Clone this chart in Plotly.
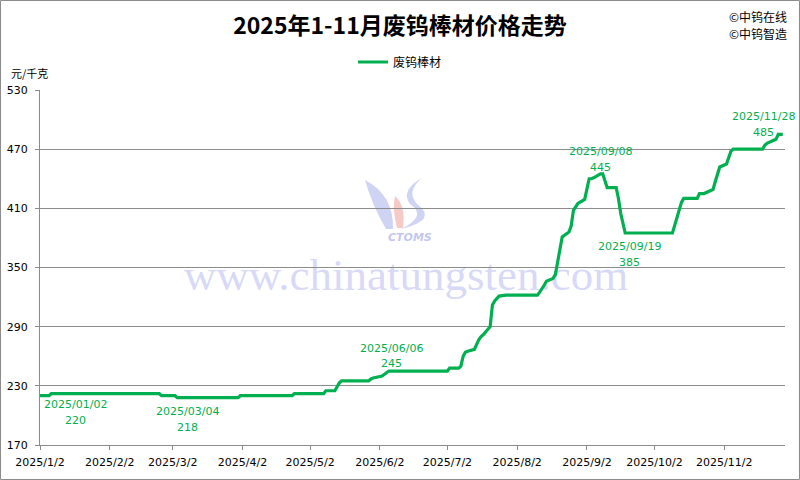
import plotly.graph_objects as go

# ---------------- data ----------------
dates = [
    "2025-01-02", "2025-01-06", "2025-01-07", "2025-02-24", "2025-02-25", "2025-03-03", "2025-03-04",
    "2025-03-31", "2025-04-01", "2025-04-24", "2025-04-25", "2025-05-08", "2025-05-09", "2025-05-13",
    "2025-05-14", "2025-05-15", "2025-05-16", "2025-05-28", "2025-05-29", "2025-05-30", "2025-06-03",
    "2025-06-04", "2025-06-05", "2025-06-06", "2025-07-02", "2025-07-03", "2025-07-07", "2025-07-08",
    "2025-07-09", "2025-07-10", "2025-07-11", "2025-07-14", "2025-07-15", "2025-07-16", "2025-07-17",
    "2025-07-18", "2025-07-21", "2025-07-22", "2025-07-23", "2025-07-24", "2025-07-25", "2025-07-28",
    "2025-08-11", "2025-08-12", "2025-08-13", "2025-08-14", "2025-08-15", "2025-08-18", "2025-08-19",
    "2025-08-20", "2025-08-21", "2025-08-22", "2025-08-25", "2025-08-26", "2025-08-27", "2025-08-28",
    "2025-08-29", "2025-09-01", "2025-09-02", "2025-09-03", "2025-09-04", "2025-09-05", "2025-09-08",
    "2025-09-09", "2025-09-10", "2025-09-11", "2025-09-15", "2025-09-16", "2025-09-17", "2025-09-18",
    "2025-09-19", "2025-10-10", "2025-10-13", "2025-10-14", "2025-10-15", "2025-10-21", "2025-10-22",
    "2025-10-24", "2025-10-27", "2025-10-28", "2025-10-29", "2025-10-30", "2025-10-31", "2025-11-03",
    "2025-11-04", "2025-11-05", "2025-11-06", "2025-11-19", "2025-11-20", "2025-11-21", "2025-11-24",
    "2025-11-25", "2025-11-26", "2025-11-28",
]
prices = [
    220, 220, 222, 222, 220, 220, 218,
    218, 220, 220, 222, 222, 225, 225,
    229, 233, 235, 235, 237, 238, 240,
    242, 243, 245, 245, 248, 248, 250,
    260, 264, 265, 267, 272, 277, 280,
    282, 290, 312, 316, 319, 321, 322,
    322, 325, 328, 332, 336, 339, 343,
    357, 370, 381, 386, 392, 408, 412,
    415, 419, 430, 440, 440, 441, 445,
    445, 438, 431, 431, 420, 405, 393,
    385, 385, 408, 416, 420, 420, 425,
    425, 428, 429, 437, 445, 452, 455,
    462, 468, 470, 470, 474, 476, 479,
    480, 485, 485,
]
series_name = "废钨棒材"

tick_dates = ["2025-01-02", "2025-02-02", "2025-03-02", "2025-04-02", "2025-05-02", "2025-06-02",
              "2025-07-02", "2025-08-02", "2025-09-02", "2025-10-02", "2025-11-02"]
tick_labels = ["2025/1/2", "2025/2/2", "2025/3/2", "2025/4/2", "2025/5/2", "2025/6/2",
               "2025/7/2", "2025/8/2", "2025/9/2", "2025/10/2", "2025/11/2"]

label_dates = ["2025-01-02", "2025-03-04", "2025-06-06", "2025-09-08", "2025-09-19", "2025-11-28"]
label_values = [220, 218, 245, 445, 385, 485]
label_texts = ["2025/01/02", "2025/03/04", "2025/06/06", "2025/09/08", "2025/09/19", "2025/11/28"]

# ---------------- style ----------------
GREEN = "rgb(0,176,80)"
GRID = "#8c8c8c"
W, H = 800, 480
L, R, T, B = 40, 15, 90, 35
PW, PH = W - L - R, H - T - B
CJK = "Noto Sans CJK SC"
LAT = "DejaVu Sans"

def px(x):
    return (x - L) / PW

def py(y):
    return (H - B - y) / PH

fig = go.Figure()
fig.add_trace(go.Scatter(
    x=dates, y=prices, mode="lines", name=series_name,
    line=dict(color=GREEN, width=3.2, shape="linear"),
    hoverinfo="x+y",
))

# label offsets: (xshift, date yshift, value yshift)
offsets = [(35, -9, -25), (10, -14, -30), (3, 23, 8), (0, 22, 6), (4, -14, -30), (-19, 18, 2)]
ann = []
for d, v, t, (dx, dy1, dy2) in zip(label_dates, label_values, label_texts, offsets):
    ann.append(dict(x=d, y=v, xref="x", yref="y", text=t, showarrow=False,
                    xshift=dx, yshift=dy1, xanchor="center", yanchor="middle",
                    font=dict(family=LAT, size=11, color=GREEN)))
    ann.append(dict(x=d, y=v, xref="x", yref="y", text=str(v), showarrow=False,
                    xshift=dx, yshift=dy2, xanchor="center", yanchor="middle",
                    font=dict(family=LAT, size=11, color=GREEN)))

ann.append(dict(x=px(9), y=py(73), xref="paper", yref="paper", text="元/千克", showarrow=False,
                xanchor="left", yanchor="middle", font=dict(family=CJK, size=11, color="#000")))
ann.append(dict(x=px(789), y=py(16), xref="paper", yref="paper", text="©中钨在线", showarrow=False,
                xanchor="right", yanchor="middle", font=dict(family=CJK, size=12, color="#000")))
ann.append(dict(x=px(789), y=py(34), xref="paper", yref="paper", text="©中钨智造", showarrow=False,
                xanchor="right", yanchor="middle", font=dict(family=CJK, size=12, color="#000")))
ann.append(dict(x=px(410), y=py(237), xref="paper", yref="paper", text="CTOMS", showarrow=False,
                xanchor="center", yanchor="middle",
                font=dict(family="DejaVu Sans", size=11, color="rgba(140,150,230,0.55)",
                          style="italic", weight="bold")))

def path(points):
    s = ""
    for cmd, pts in points:
        s += cmd + " " + " ".join(f"{px(a):.4f},{py(b):.4f}" for a, b in pts) + " "
    return s + "Z"

shapes = [
    # outer border
    dict(type="rect", xref="paper", yref="paper", x0=px(0.5), x1=px(799.5), y0=py(479.5), y1=py(0.5),
         line=dict(color=GRID, width=1), fillcolor="rgba(0,0,0,0)", layer="below"),
    # watermark text
    dict(type="rect", xref="paper", yref="paper", x0=px(180), x1=px(632), y0=py(292), y1=py(248),
         line=dict(width=0), fillcolor="rgba(0,0,0,0)", layer="below",
         label=dict(text="www.chinatungsten.com", textposition="middle center",
                    font=dict(family="Liberation Serif", size=45, color="rgba(175,180,240,0.5)"))),
    # logo swooshes
    dict(type="path", xref="paper", yref="paper", layer="below", line=dict(width=0),
         fillcolor="rgba(150,160,230,0.45)",
         path=path([("M", [(365, 180)]), ("Q", [(372, 205), (386, 229)]), ("L", [(393, 229)]),
                    ("Q", [(394, 195), (365, 180)])])),
    dict(type="path", xref="paper", yref="paper", layer="below", line=dict(width=0),
         fillcolor="rgba(150,160,230,0.45)",
         path=path([("M", [(422, 178)]), ("Q", [(405, 192), (418, 205)]), ("Q", [(438, 220), (401, 229)]),
                    ("Q", [(428, 216), (410, 204)]), ("Q", [(400, 190), (422, 178)])])),
    dict(type="path", xref="paper", yref="paper", layer="below", line=dict(width=0),
         fillcolor="rgba(240,150,150,0.5)",
         path=path([("M", [(395, 196)]), ("Q", [(406, 205), (403, 228)]), ("L", [(397, 228)]),
                    ("Q", [(392, 210), (395, 196)])])),
]

fig.update_layout(
    width=W, height=H,
    margin=dict(l=L, r=R, t=T, b=B, autoexpand=False),
    paper_bgcolor="white", plot_bgcolor="white",
    title=dict(text="<b>2025年1-11月废钨棒材价格走势</b>", x=0.5, xref="container", xanchor="center",
               y=1 - 26 / H, yanchor="middle",
               font=dict(family=CJK, size=23, color="#000")),
    showlegend=True,
    legend=dict(orientation="h", x=px(400), y=py(62), xanchor="center", yanchor="middle",
                font=dict(family=CJK, size=12, color="#000"), bgcolor="rgba(0,0,0,0)",
                itemwidth=30),
    xaxis=dict(type="date", range=["2025-01-02", "2025-11-29"], tickvals=tick_dates, ticktext=tick_labels,
               showgrid=False, zeroline=False, showline=True, linecolor=GRID, linewidth=1,
               ticks="outside", ticklen=4, tickcolor=GRID, ticklabelstandoff=3, automargin=False,
               tickfont=dict(family=LAT, size=11, color="#000")),
    yaxis=dict(range=[170, 530], tick0=170, dtick=60, showgrid=True, gridcolor=GRID, gridwidth=1,
               zeroline=False, showline=True, linecolor=GRID, linewidth=1,
               ticks="outside", ticklen=4, tickcolor=GRID, ticklabelstandoff=5, automargin=False,
               tickfont=dict(family=LAT, size=11, color="#000")),
    annotations=ann,
    shapes=shapes,
)

fig.write_html("out.html", config={"displayModeBar": False},
               post_script="document.body.style.margin='0';document.body.style.overflow='hidden';")
